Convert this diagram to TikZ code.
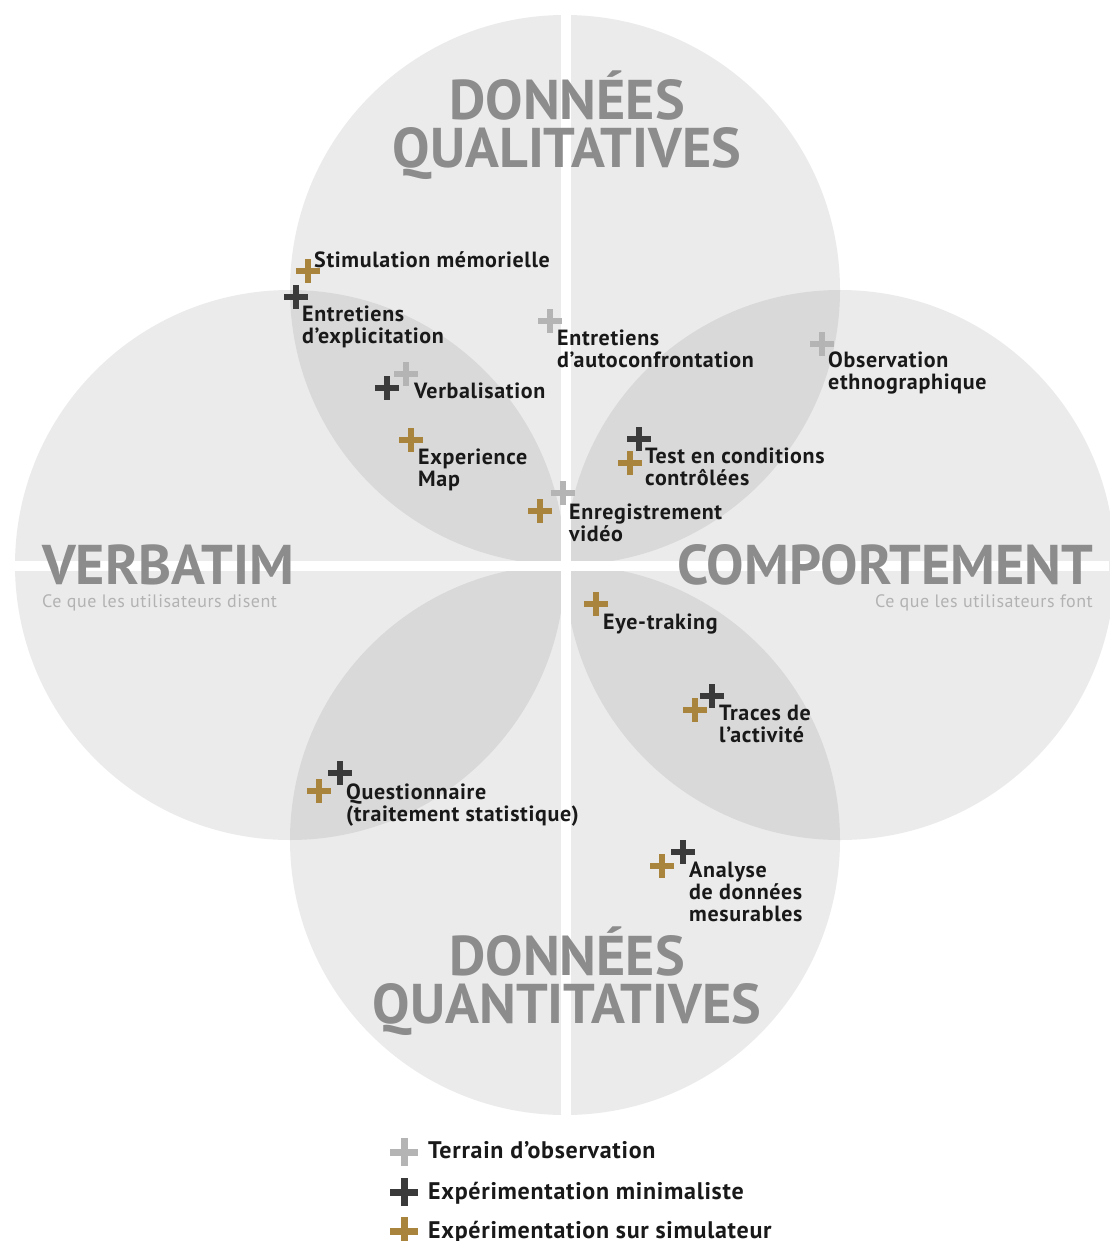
\documentclass[tikz,border=0pt]{standalone}
\usepackage{fontspec}
\setmainfont{PT Sans}
\definecolor{titlegray}{HTML}{8C8C8C}
\definecolor{subgray}{HTML}{B2B2B2}
\definecolor{terrain}{HTML}{B4B4B4}
\definecolor{minimal}{HTML}{3A3A3A}
\definecolor{simul}{HTML}{A8843C}
\tikzset{
  zone/.style={fill=black, fill opacity=0.08},
  gap/.style={white, line width=10pt},
  bigtitle/.style={text=titlegray, font=\fontsize{56}{48}\selectfont\bfseries, align=center, inner sep=0pt, anchor=base},
  subtitle/.style={text=subgray, font=\fontsize{18}{20}\selectfont\addfontfeatures{LetterSpace=3}, inner sep=0pt},
  lbl/.style={text=black!90, font=\fontsize{22}{22}\selectfont\bfseries\addfontfeatures{LetterSpace=3}, align=left, inner sep=0pt, anchor=base west},
  legendlbl/.style={lbl, font=\fontsize{24}{24}\selectfont\bfseries\addfontfeatures{LetterSpace=3}},
  pics/plus/.style={code={
    \fill[#1] (-12,-3) rectangle (12,3);
    \fill[#1] (-3,-12) rectangle (3,12);
  }},
  pics/bigplus/.style={code={
    \fill[#1] (-14,-3.5) rectangle (14,3.5);
    \fill[#1] (-3.5,-14) rectangle (3.5,14);
  }}
}
\begin{document}
\begin{tikzpicture}[x=1pt, y=-1pt]
  \useasboundingbox (0,0) rectangle (1109,1241);
  % the four zones
  \coordinate (qual) at (565,290);
  \coordinate (quant) at (565,840);
  \coordinate (verb) at (290,565);
  \coordinate (comp) at (840,565);
  \foreach \c in {qual,quant,verb,comp}
    \fill[zone] (\c) circle[radius=275pt];
  % white cross
  \draw[gap] (566,10) -- (566,1120);
  \draw[gap] (10,566) -- (1109,566);
  % zone titles (base = last line)
  \node[bigtitle] (tqual) at (567,168) {DONNÉES\\QUALITATIVES};
  \node[bigtitle] (tquant) at (567,1023) {DONNÉES\\QUANTITATIVES};
  \node[bigtitle, anchor=base west] (tverb) at (42,584) {VERBATIM};
  \node[subtitle, anchor=base west] (sverb) at (42,607) {Ce que les utilisateurs disent};
  \node[bigtitle, anchor=base east] (tcomp) at (1093,584) {COMPORTEMENT};
  \node[subtitle, anchor=base east] (scomp) at (1093,607) {Ce que les utilisateurs font};
  % methods
  \pic at (308,271) {plus=simul};
  \node[lbl] (stim) at (314,267) {Stimulation mémorielle};
  \pic at (296,297) {plus=minimal};
  \node[lbl] (expl) at (302,343) {Entretiens\\d’explicitation};
  \pic at (406,374) {plus=terrain};
  \pic at (387,388) {plus=minimal};
  \node[lbl] (verbal) at (414,398) {Verbalisation};
  \pic at (411,440) {plus=simul};
  \node[lbl] (xpmap) at (418,486) {Experience\\Map};
  \pic at (550,321) {plus=terrain};
  \node[lbl] (autoc) at (557,367) {Entretiens\\d’autoconfrontation};
  \pic at (822,344) {plus=terrain};
  \node[lbl] (ethno) at (828,389) {Observation\\ethnographique};
  \pic at (639,439) {plus=minimal};
  \pic at (630,463) {plus=simul};
  \node[lbl] (test) at (645,485) {Test en conditions\\contrôlées};
  \pic at (563,493) {plus=terrain};
  \pic at (540,511) {plus=simul};
  \node[lbl] (video) at (569,541) {Enregistrement\\vidéo};
  \pic at (596,604) {plus=simul};
  \node[lbl] (eye) at (603,629) {Eye-traking};
  \pic at (712,696) {plus=minimal};
  \pic at (695,710) {plus=simul};
  \node[lbl] (traces) at (719,742) {Traces de\\l’activité};
  \pic at (340,773) {plus=minimal};
  \pic at (319,791) {plus=simul};
  \node[lbl] (quest) at (346,821) {Questionnaire\\(traitement statistique)};
  \pic at (683,852) {plus=minimal};
  \pic at (662,866) {plus=simul};
  \node[lbl] (mesur) at (689,921) {Analyse\\de données\\mesurables};
  % legend
  \pic at (404,1152) {bigplus=terrain};
  \node[legendlbl] (lterrain) at (428,1158) {Terrain d’observation};
  \pic at (404,1192) {bigplus=minimal};
  \node[legendlbl] (lminimal) at (428,1199) {Expérimentation minimaliste};
  \pic at (404,1231) {bigplus=simul};
  \node[legendlbl] (lsimul) at (428,1238) {Expérimentation sur simulateur};
\end{tikzpicture}
\end{document}
